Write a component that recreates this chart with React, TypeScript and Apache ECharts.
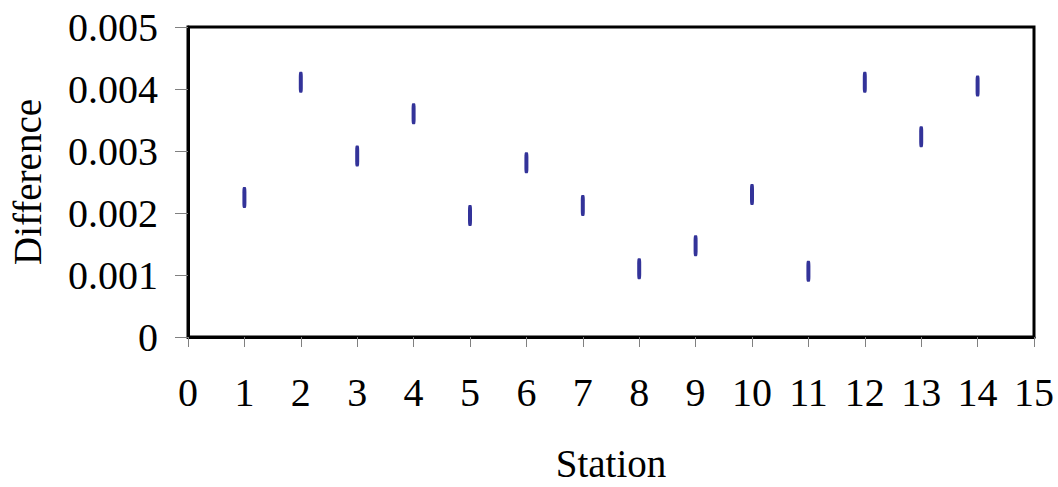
import React, { useEffect, useRef } from "react";
import * as echarts from "echarts";

const stations = [1, 2, 3, 4, 5, 6, 7, 8, 9, 10, 11, 12, 13, 14];
const differences = [0.00225, 0.00411, 0.00292, 0.0036, 0.00196, 0.00281, 0.00212, 0.0011, 0.00147, 0.0023, 0.00106, 0.00411, 0.00323, 0.00405];

const FONT = "'Liberation Serif', 'Times New Roman', serif";

export default function App() {
  const ref = useRef<HTMLDivElement>(null);
  useEffect(() => {
    if (!ref.current) return;
    const chart = echarts.init(ref.current, undefined, { renderer: "svg" });
    chart.setOption({
      animation: false,
      backgroundColor: "#ffffff",
      grid: {
        left: 188,
        right: 24,
        top: 27,
        bottom: 150,
        containLabel: false,
        outerBoundsMode: "none",
        show: true,
        borderColor: "#000000",
        borderWidth: 3,
        backgroundColor: "transparent",
      },
      xAxis: {
        type: "value",
        min: 0,
        max: 15,
        interval: 1,
        name: "Station",
        nameLocation: "middle",
        nameGap: 107,
        nameTextStyle: { fontFamily: FONT, fontSize: 39, color: "#000" },
        axisLine: { show: true, lineStyle: { color: "#000", width: 3 } },
        axisTick: { show: true, inside: false, length: 10, lineStyle: { color: "#808080", width: 1 } },
        axisLabel: { fontFamily: FONT, fontSize: 40, color: "#000", margin: 35 },
        splitLine: { show: false },
      },
      yAxis: {
        type: "value",
        min: 0,
        max: 0.005,
        interval: 0.001,
        name: "Difference",
        nameLocation: "middle",
        nameGap: 141,
        nameTextStyle: { fontFamily: FONT, fontSize: 39, color: "#000" },
        axisLine: { show: true, lineStyle: { color: "#000", width: 3 } },
        axisTick: { show: true, inside: false, length: 13, lineStyle: { color: "#808080", width: 1 } },
        axisLabel: { fontFamily: FONT, fontSize: 40, color: "#000", margin: 30 },
        splitLine: { show: false },
      },
      series: [
        {
          type: "scatter",
          data: stations.map((s, i) => [s, differences[i]]),
          symbol: "roundRect",
          symbolSize: [4, 21],
          itemStyle: { color: "#000080" },
        },
      ],
    });
    return () => chart.dispose();
  }, []);
  return (
    <div
      ref={ref}
      style={{ position: "absolute", left: 0, top: 0, width: 1058, height: 487 }}
    />
  );
}
